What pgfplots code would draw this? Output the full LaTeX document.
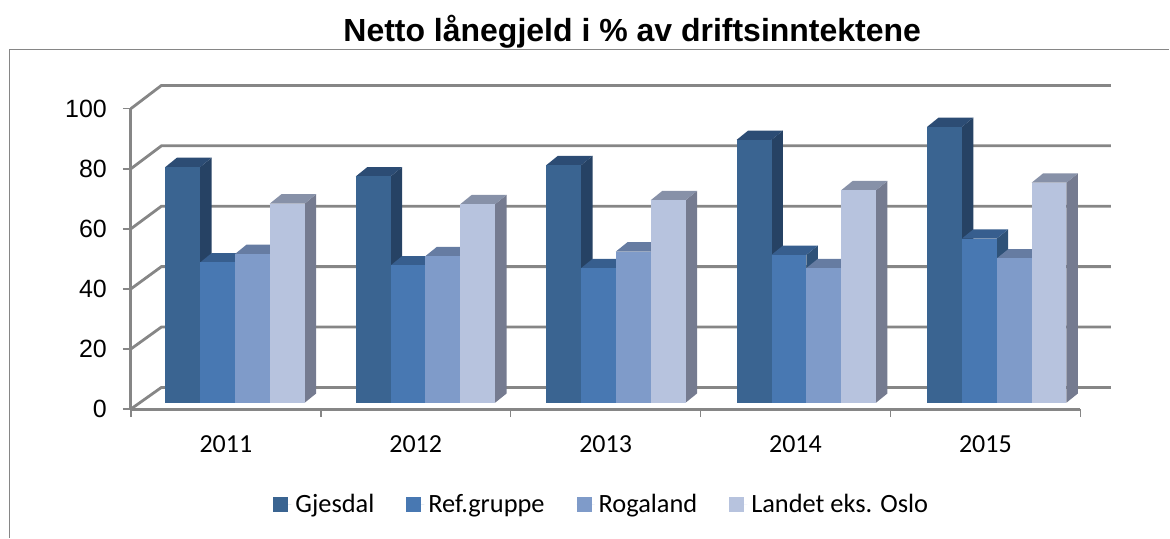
\documentclass[border=0pt]{standalone}
\usepackage{fontspec}
\setmainfont{Carlito}
\newfontfamily\arialfont{Liberation Sans}
\usepackage{pgfplots}
\pgfplotsset{compat=1.18}
\definecolor{gridc}{HTML}{868686}
\definecolor{aF}{HTML}{3A6491}\definecolor{aS}{HTML}{264264}\definecolor{aT}{HTML}{2C4C74}
\definecolor{bF}{HTML}{4878B2}\definecolor{bS}{HTML}{2F5278}\definecolor{bT}{HTML}{375E8E}
\definecolor{cF}{HTML}{7F9BC9}\definecolor{cS}{HTML}{56698A}\definecolor{cT}{HTML}{667CA2}
\definecolor{dF}{HTML}{B7C3DE}\definecolor{dS}{HTML}{757B90}\definecolor{dT}{HTML}{8791A8}
% group, position in group, value, colour prefix
\newcommand{\threedbar}[4]{%
  \pgfmathsetmacro\xl{(165.5-131+190.55*#1+34.85*#2)/190}%
  \pgfmathsetmacro\xr{\xl+34.85/190}%
  \pgfmathsetmacro\xld{\xl+11.5/190}%
  \pgfmathsetmacro\xrd{\xr+11.5/190}%
  \pgfmathsetmacro\yb{2.096}%
  \pgfmathsetmacro\yt{2.096+#3*1.0047}%
  \pgfmathsetmacro\ybd{\yb+9.3/3.006}%
  \pgfmathsetmacro\ytd{\yt+9.3/3.006}%
  \addplot[forget plot,draw=none,fill=#4S] coordinates {(\xr,\yb)(\xrd,\ybd)(\xrd,\ytd)(\xr,\yt)};
  \addplot[forget plot,draw=none,fill=#4T] coordinates {(\xl,\yt)(\xr,\yt)(\xrd,\ytd)(\xld,\ytd)};
  \addplot[forget plot,draw=none,fill=#4F] coordinates {(\xl,\yb)(\xr,\yb)(\xr,\yt)(\xl,\yt)};
}
% wall gridline at value v
\newcommand{\wallline}[1]{%
  \pgfmathsetmacro\yf{#1}%
  \pgfmathsetmacro\yw{#1*1.0053+7.186}%
  \addplot[forget plot,gridc,line width=1.4pt] coordinates {(0,\yf)(0.1605,\yw)(5.1605,\yw)};
}
\begin{document}
\begin{tikzpicture}
\begin{axis}[
  scale only axis, width=475pt, height=150.3pt,
  xmin=0, xmax=5, ymin=0, ymax=100, clip=false, no markers,
  axis x line*=bottom, axis y line*=left,
  axis line style={gridc,line width=1.5pt},
  xtick={0,1,2,3,4,5}, xticklabels={},
  extra x ticks={0.5,1.5,2.5,3.5,4.5},
  extra x tick labels={2011,2012,2013,2014,2015},
  extra x tick style={major tick length=0pt},
  ytick={0,20,40,60,80,100},
  tick align=outside, major tick length=4pt,
  tick style={gridc,line width=0.8pt},
  xticklabel style={font=\fontsize{13}{15}\selectfont, yshift=-10pt},
  yticklabel style={font=\arialfont\fontsize{12.5}{14}\selectfont, xshift=-4.5pt},
  /pgf/number format/assume math mode=true,
  ylabel={}, 
  title={\arialfont\bfseries Netto lånegjeld i \% av driftsinntektene},
  title style={font=\fontsize{16}{18}\selectfont, at={(axis description cs:0.528,1.215)}, anchor=center},
  legend columns=4,
  legend style={draw=none, fill=none, at={(axis description cs:0.497,-0.318)}, anchor=center,
    font=\fontsize{13.2}{15}\selectfont,
    /tikz/every even column/.append style={column sep=14pt}},
  legend image code/.code={\fill[#1] (0pt,-3.75pt) rectangle (7.5pt,3.75pt);\path (0pt,0pt) -- (9pt,0pt);},
]
\addlegendimage{fill=aF,draw=none}\addlegendentry{Gjesdal}
\addlegendimage{fill=bF,draw=none}\addlegendentry{Ref.gruppe}
\addlegendimage{fill=cF,draw=none}\addlegendentry{Rogaland}
\addlegendimage{fill=dF,draw=none}\addlegendentry{Landet eks. Oslo}
\wallline{0}\wallline{20}\wallline{40}\wallline{60}\wallline{80}\wallline{100}
% 2011
\threedbar{0}{0}{78.1}{a}\threedbar{0}{1}{46.5}{b}\threedbar{0}{2}{49.3}{c}\threedbar{0}{3}{66.0}{d}
% 2012
\threedbar{1}{0}{75.0}{a}\threedbar{1}{1}{45.5}{b}\threedbar{1}{2}{48.6}{c}\threedbar{1}{3}{65.8}{d}
% 2013
\threedbar{2}{0}{78.7}{a}\threedbar{2}{1}{44.6}{b}\threedbar{2}{2}{50.1}{c}\threedbar{2}{3}{67.1}{d}
% 2014
\threedbar{3}{0}{87.1}{a}\threedbar{3}{1}{49.0}{b}\threedbar{3}{2}{44.6}{c}\threedbar{3}{3}{70.4}{d}
% 2015
\threedbar{4}{0}{91.4}{a}\threedbar{4}{1}{54.4}{b}\threedbar{4}{2}{47.8}{c}\threedbar{4}{3}{72.9}{d}
% chart frame: left and top edges only, and the page extent
\draw[gridc,line width=0.75pt] (axis cs:-0.6395,-42.81) -- (axis cs:-0.6395,119.6) -- (axis cs:5.46842,119.6);
\path (axis cs:-0.68947,-42.81) rectangle (axis cs:5.46842,136.16);
\end{axis}
\end{tikzpicture}
\end{document}
